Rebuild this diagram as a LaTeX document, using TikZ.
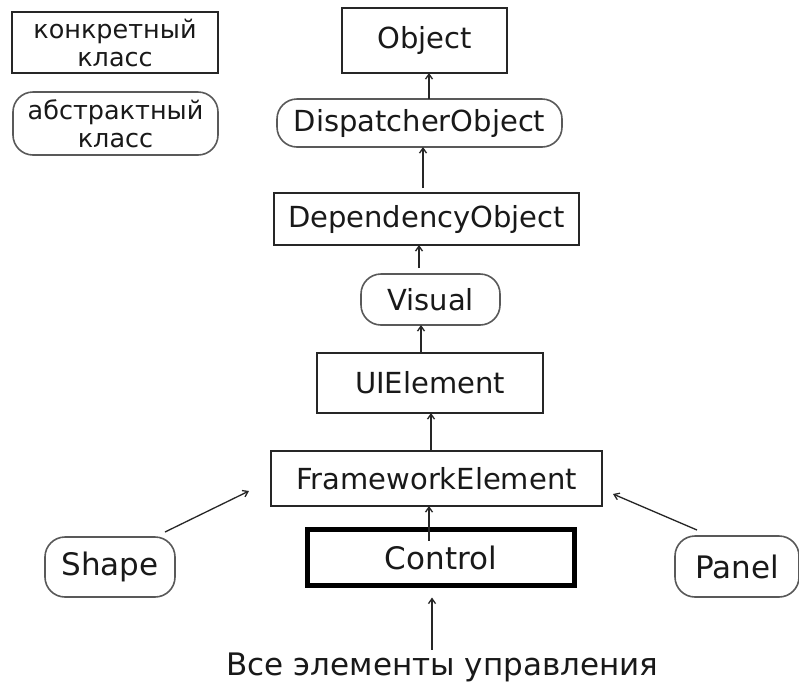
\documentclass[tikz,border=0pt]{standalone}
\usepackage{fontspec}
\setmainfont{DejaVu Sans}
\usetikzlibrary{arrows.meta,calc}
\begin{document}
\begin{tikzpicture}[x=1pt,y=-1pt,
  every node/.style={inner sep=0pt,outer sep=0pt,font=\fontsize{29}{33}\selectfont,text=black!90},
  big/.style={font=\fontsize{31}{35}\selectfont},
  legend/.style={align=center,font=\fontsize{25.5}{28}\selectfont},
  concrete/.style={draw=black!85,line width=1.6pt,rectangle,minimum width=#1},
  abstract/.style={draw=black!65,line width=1.6pt,rectangle,rounded corners=20pt,minimum width=#1},
  arr/.style={-{Straight Barb[length=5pt,width=7pt]},line width=1.3pt,draw=black!85}]
\useasboundingbox[fill=white] (0,0) rectangle (799,681);
% legend
\node[concrete=206,minimum height=61,legend] (lc) at (115,42.5) {конкретный\\класс};
\node[abstract=205,minimum height=63,legend] (la) at (115.5,123.5) {абстрактный\\класс};
% hierarchy
\node[concrete=165,minimum height=65] (obj) at (424.5,40.5) {Object};
\node[abstract=285,minimum height=48] (disp) at (419.5,123) {DispatcherObject};
\node[concrete=305,minimum height=52] (dep) at (426.5,219) {DependencyObject};
\node[abstract=139,minimum height=51] (vis) at (430.5,299.5) {Visual};
\node[concrete=226,minimum height=60] (uie) at (430,383) {UIElement};
\node[concrete=331,minimum height=55] (fe) at (436.5,478.5) {FrameworkElement};
\node[draw=black,line width=5pt,minimum width=267,minimum height=56,big] (ctl) at (441,557.5) {Control};
\node[abstract=130,minimum height=60,big] (shape) at (110,567) {Shape};
\node[abstract=124,minimum height=61,big] (panel) at (737,566.5) {Panel};
\node[anchor=base,font=\fontsize{31}{36}\selectfont] (all) at (442.5,675) {Все элементы управления};
% arrows
\draw[arr] ([xshift=9.5pt]disp.north) -- ([xshift=4.5pt]obj.south);
\draw[arr] ($(dep.north)+(-3.5,-5)$) -- ([xshift=3.5pt]disp.south);
\draw[arr] ($(vis.north)+(-11.5,-6)$) -- ([xshift=-7.5pt]dep.south);
\draw[arr] ([xshift=-9pt]uie.north) -- ([xshift=-9.5pt]vis.south);
\draw[arr] ([xshift=-5.5pt]fe.north) -- ([xshift=1pt]uie.south);
\draw[arr] ($(ctl.north)+(-12,11)$) -- ([xshift=-7.5pt]fe.south);
\draw[arr] ($(ctl.south)+(-9,64)$) -- ($(ctl.south)+(-9,12)$);
\draw[arr] ($(shape.north)+(55,-5)$) -- ($(fe.south west)+(-22,-15)$);
\draw[arr] ($(panel.north west)+(22,-6)$) -- ($(fe.south east)+(11,-12)$);
\end{tikzpicture}
\end{document}
